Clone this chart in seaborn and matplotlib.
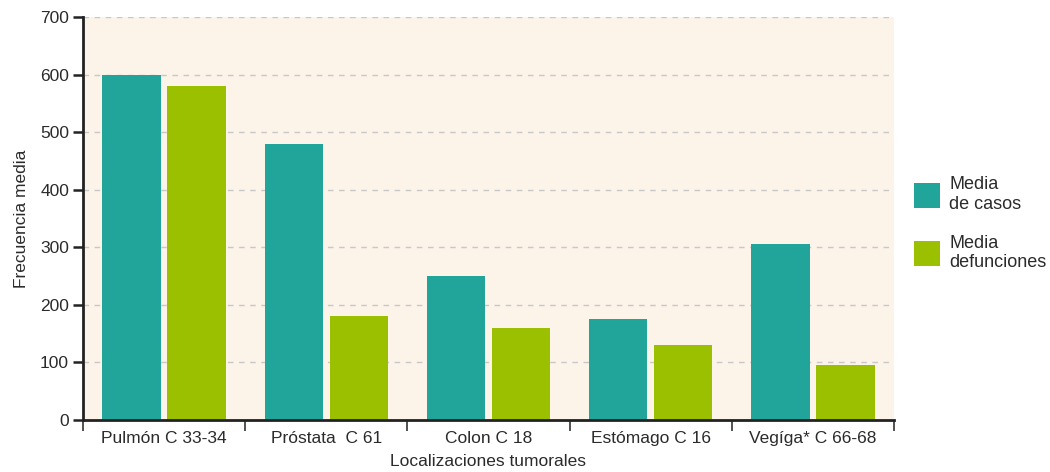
import matplotlib
matplotlib.use("Agg")
import matplotlib.pyplot as plt
import seaborn as sns
import pandas as pd
from matplotlib.ticker import FixedLocator
from matplotlib.patches import Patch

# Tumour sites and mean yearly figures
localizaciones = ["Pulmón C 33-34", "Próstata  C 61", "Colon C 18", "Estómago C 16", "Vegíga* C 66-68"]
media_casos = [600, 480, 250, 175, 305]
media_defunciones = [580, 180, 160, 130, 95]
series = ["Media\nde casos", "Media\ndefunciones"]
colores = ["#21A59A", "#9BC000"]

df = pd.DataFrame({
    "loc": localizaciones * 2,
    "valor": media_casos + media_defunciones,
    "serie": [series[0]] * len(localizaciones) + [series[1]] * len(localizaciones),
})

sns.set_theme(style="white")
plt.rcParams["font.family"] = ["Liberation Sans", "DejaVu Sans"]
txt = "#2b2b2b"
fs = 12.5

fig = plt.figure(figsize=(10.5, 4.72), dpi=100)
ax = fig.add_axes([83 / 1050, 1 - 420 / 472, (894 - 83) / 1050, (420 - 17) / 472])
ax.set_facecolor("#FCF3E9")

sns.barplot(data=df, x="loc", y="valor", hue="serie", palette=colores,
            width=0.8, gap=0.1, saturation=1, linewidth=0, ax=ax, legend=False, zorder=2)

ax.set_ylim(0, 700)
ax.set_xlim(-0.5, len(localizaciones) - 0.5)
ax.set_yticks(range(0, 701, 100))
ax.yaxis.grid(True, linestyle=(0, (4, 4)), color="#c8c8c8", linewidth=1, zorder=0)
ax.xaxis.grid(False)
ax.set_axisbelow(True)

ax.set_xticks(range(len(localizaciones)))
ax.set_xticklabels(localizaciones)
ax.xaxis.set_minor_locator(FixedLocator([i - 0.5 for i in range(len(localizaciones) + 1)]))
ax.tick_params(axis="x", which="major", length=0, pad=8, labelsize=fs, labelcolor=txt)
ax.tick_params(axis="x", which="minor", bottom=True, length=8, width=1.2, color="#333333", direction="out")
ax.tick_params(axis="y", left=True, length=7, width=1.8, color="#222222", labelsize=fs, labelcolor=txt, pad=3)

for side in ("top", "right"):
    ax.spines[side].set_visible(False)
for side in ("left", "bottom"):
    ax.spines[side].set_color("#222222")
    ax.spines[side].set_linewidth(2)

ax.set_xlabel("Localizaciones tumorales", fontsize=fs, color=txt, labelpad=6)
ax.set_ylabel("Frecuencia media", fontsize=fs, color=txt, labelpad=8)

handles = [Patch(facecolor=c, edgecolor="none") for c in colores]
fig.legend(handles, series, loc="upper left", bbox_to_anchor=(898 / 1050, 1 - 160 / 472),
           frameon=False, fontsize=13, handlelength=1.45, handleheight=1.75,
           handletextpad=0.5, labelspacing=1.2, labelcolor=txt)

fig.savefig("out.png", dpi=100)
